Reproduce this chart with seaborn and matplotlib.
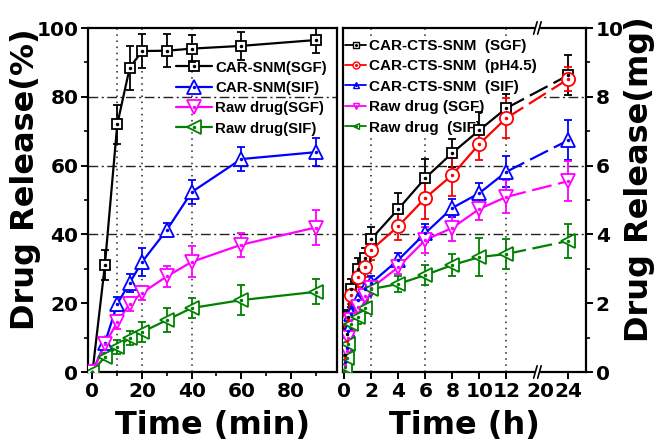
import matplotlib
matplotlib.use("Agg")
import matplotlib.pyplot as plt
import seaborn as sns
from matplotlib.lines import Line2D
from matplotlib.legend_handler import HandlerTuple
from matplotlib.ticker import MultipleLocator, FixedLocator

sns.set_theme(style="ticks", rc={"axes.edgecolor": "black", "xtick.color": "black",
                                 "ytick.color": "black", "text.color": "black",
                                 "axes.labelcolor": "black"})
plt.rcParams["font.family"] = ["DejaVu Sans"]
plt.rcParams["font.weight"] = "bold"
plt.rcParams["axes.labelweight"] = "bold"

# ---------------- data: left panel (time in min, release in %) ----------------
t_min = [0, 5, 10, 15, 20, 30, 40, 60, 90]
snm_sgf = [0, 31, 72, 88.4, 93.3, 93.4, 94.0, 94.8, 96.5]
snm_sgf_err = [0, 4.4, 5.7, 6.4, 4.9, 4.8, 4.0, 4.0, 3.8]
snm_sif = [0, 8.4, 19.8, 25.9, 32.0, 41.3, 52.3, 61.9, 63.9]
snm_sif_err = [0, 1.0, 2.0, 2.5, 4.0, 2.0, 3.5, 3.5, 4.0]
raw_sgf = [0, 8.0, 14.5, 19.8, 23.0, 27.8, 32.0, 37.0, 42.0]
raw_sgf_err = [0, 1.0, 2.0, 2.0, 2.0, 3.0, 4.5, 3.5, 5.0]
raw_sif = [0, 4.5, 7.2, 9.9, 11.6, 15.1, 18.6, 20.9, 23.3]
raw_sif_err = [0, 1.0, 2.0, 2.0, 2.8, 3.5, 3.0, 4.3, 3.6]
left_labels = ["CAR-SNM(SGF)", "CAR-SNM(SIF)", "Raw drug(SGF)", "Raw drug(SIF)"]

# ---------------- data: right panel (time in h, release in mg) ----------------
t_h = [0, 0.08, 0.17, 0.25, 0.5, 1, 1.5, 2, 4, 6, 8, 10, 12, 24]
cts_sgf = [0, 0.5, 1.1, 1.6, 2.4, 3.0, 3.3, 3.87, 4.74, 5.64, 6.37, 7.03, 7.67, 8.63]
cts_sgf_err = [0, 0.1, 0.15, 0.2, 0.3, 0.3, 0.3, 0.35, 0.45, 0.55, 0.4, 0.52, 0.4, 0.58]
cts_ph45 = [0, 0.4, 0.9, 1.5, 2.24, 2.77, 3.05, 3.55, 4.24, 5.06, 5.73, 6.63, 7.38, 8.52]
cts_ph45_err = [0, 0.1, 0.15, 0.2, 0.25, 0.3, 0.3, 0.3, 0.4, 0.6, 0.6, 0.48, 0.58, 0.35]
cts_sif = [0, 0.3, 0.7, 1.2, 1.7, 2.1, 2.4, 2.59, 3.26, 4.04, 4.77, 5.2, 5.82, 6.74]
cts_sif_err = [0, 0.05, 0.1, 0.15, 0.2, 0.2, 0.2, 0.2, 0.2, 0.25, 0.25, 0.3, 0.45, 0.58]
rawh_sgf = [0, 0.2, 0.6, 1.0, 1.5, 1.9, 2.2, 2.44, 3.05, 3.84, 4.19, 4.74, 5.09, 5.55]
rawh_sgf_err = [0, 0.05, 0.1, 0.15, 0.2, 0.2, 0.15, 0.15, 0.2, 0.38, 0.38, 0.33, 0.48, 0.57]
rawh_sif = [0, 0.15, 0.4, 0.8, 1.4, 1.6, 1.86, 2.41, 2.56, 2.82, 3.11, 3.34, 3.43, 3.81]
rawh_sif_err = [0, 0.05, 0.1, 0.15, 0.2, 0.2, 0.15, 0.15, 0.22, 0.3, 0.33, 0.55, 0.45, 0.5]
right_labels = ["CAR-CTS-SNM  (SGF)", "CAR-CTS-SNM  (pH4.5)", "CAR-CTS-SNM  (SIF)",
                "Raw drug (SGF)", "Raw drug  (SIF)"]
right_tick_hours = [0, 2, 4, 6, 8, 10, 12, 20, 24]


def hpos(t):
    """broken time axis: 0-12 h linear, then compressed segment starting at 20 h"""
    return t if t <= 12 else 14.55 + (t - 20) * 0.5125


W, H = 655, 447
fig = plt.figure(figsize=(W / 100, H / 100), dpi=100)
axL = fig.add_axes([88 / W, 75 / H, 249 / W, 344 / H])
axR = fig.add_axes([343 / W, 75 / H, 243 / W, 344 / H])

LW = 1.6
MEW = 1.3


def draw_series(ax, x, y, err, color, marker, ms, split=None):
    ax.errorbar(x, y, yerr=err, fmt="none", ecolor=color, elinewidth=1.3,
                capsize=3.2, capthick=1.3, zorder=3)
    if split is None:
        sns.lineplot(x=x, y=y, ax=ax, color=color, linewidth=LW, estimator=None,
                     sort=False, errorbar=None, legend=False, zorder=4)
    else:
        sns.lineplot(x=x[:split], y=y[:split], ax=ax, color=color, linewidth=LW,
                     estimator=None, sort=False, errorbar=None, legend=False, zorder=4)
        sns.lineplot(x=x[split - 1:], y=y[split - 1:], ax=ax, color=color, linewidth=LW,
                     linestyle=(0, (9, 3)), estimator=None, sort=False, errorbar=None,
                     legend=False, zorder=4)
    ax.plot(x, y, linestyle="none", marker=marker, markersize=ms, markerfacecolor="white",
            markeredgecolor=color, markeredgewidth=MEW, zorder=5)
    ax.plot(x, y, linestyle="none", marker="o", markersize=1.5, color=color, zorder=6)


# ---------------- left panel ----------------
left_series = [
    (snm_sgf, snm_sgf_err, "black", "s", 6.5),
    (snm_sif, snm_sif_err, "#0000ff", "^", 10),
    (raw_sgf, raw_sgf_err, "#ff00ff", "v", 10),
    (raw_sif, raw_sif_err, "#008000", "<", 10),
]
for y, e, c, m, ms in left_series:
    draw_series(axL, t_min, y, e, c, m, ms)

for yv in (40, 60, 80):
    axL.axhline(yv, color="#222222", lw=1.0, ls=(0, (7, 2.5, 1.5, 2.5)), zorder=1)
for xv in (10, 20, 40):
    axL.axvline(xv, color="#222222", lw=1.1, ls=(0, (1, 3)), zorder=1)

axL.set_xlim(-1.8, 98.6)
axL.set_ylim(0, 100)
axL.xaxis.set_major_locator(FixedLocator([0, 20, 40, 60, 80]))
axL.xaxis.set_minor_locator(FixedLocator([10, 30, 50, 70, 90]))
axL.yaxis.set_major_locator(MultipleLocator(20))
axL.yaxis.set_minor_locator(MultipleLocator(10))
axL.set_xlabel("Time (min)", fontsize=23, labelpad=7)
axL.set_ylabel("Drug Release(%)", fontsize=23)
axL.yaxis.set_label_coords(-0.19, 0.56)

hL = []
for y, e, c, m, ms in left_series:
    h1 = Line2D([], [], color=c, lw=LW, marker=m, markersize=ms, markerfacecolor="white",
                markeredgecolor=c, markeredgewidth=MEW)
    h2 = Line2D([], [], linestyle="none", marker="o", markersize=1.5, color=c)
    hL.append((h1, h2))
legL = axL.legend(hL, left_labels, handler_map={tuple: HandlerTuple(ndivide=1)},
                  loc="upper left", bbox_to_anchor=(0.353, 0.905), frameon=False,
                  borderpad=0, borderaxespad=0, handlelength=2.4, handletextpad=0.2,
                  labelspacing=0.42, numpoints=1,
                  prop=dict(family="Liberation Sans", weight="bold", size=10.8))
legL.set_zorder(1.5)

# ---------------- right panel ----------------
xh = [hpos(t) for t in t_h]
split = t_h.index(12) + 1
right_series = [
    (cts_sgf, cts_sgf_err, "black", "s", 7),
    (cts_ph45, cts_ph45_err, "#ff0000", "o", 9.5),
    (cts_sif, cts_sif_err, "#0000ff", "^", 9.5),
    (rawh_sgf, rawh_sgf_err, "#ff00ff", "v", 9.5),
    (rawh_sif, rawh_sif_err, "#008000", "<", 9.5),
]
for y, e, c, m, ms in right_series:
    draw_series(axR, xh, y, e, c, m, ms, split=split)

for yv in (4, 6, 8):
    axR.axhline(yv, color="#222222", lw=1.0, ls=(0, (7, 2.5, 1.5, 2.5)), zorder=1)
for xv in (2, 6, 12):
    axR.axvline(xv, color="#222222", lw=1.1, ls=(0, (1, 3)), zorder=1)

axR.set_xlim(-0.1, 17.9)
axR.set_ylim(0, 10)
axR.set_xticks([hpos(t) for t in right_tick_hours])
axR.set_xticklabels([str(t) for t in right_tick_hours])
axR.yaxis.tick_right()
axR.yaxis.set_label_position("right")
axR.yaxis.set_major_locator(MultipleLocator(2))
axR.yaxis.set_minor_locator(MultipleLocator(1))
axR.set_xlabel("Time (h)", fontsize=23, labelpad=7)
axR.set_ylabel("Drug Release(mg)", fontsize=23)
axR.yaxis.set_label_coords(1.155, 0.56)

hR = []
for y, e, c, m, ms in right_series:
    h1 = Line2D([], [], color=c, lw=1.3, marker=m, markersize=5, markerfacecolor="white",
                markeredgecolor=c, markeredgewidth=1.0)
    h2 = Line2D([], [], linestyle="none", marker="o", markersize=1.2, color=c)
    hR.append((h1, h2))
legR = axR.legend(hR, right_labels, handler_map={tuple: HandlerTuple(ndivide=1)},
                  loc="upper left", bbox_to_anchor=(0.0, 0.975), frameon=True,
                  facecolor="white", edgecolor="none", framealpha=1, fancybox=False,
                  borderpad=0.15, borderaxespad=0, handlelength=1.37, handletextpad=0.2,
                  labelspacing=0.42, numpoints=1,
                  prop=dict(family="Liberation Sans", weight="bold", size=11))
legR.set_zorder(1.5)

# axis break marks on the right panel
bx = 14.3
tr = axR.get_xaxis_transform()
for yb in (0, 1):
    axR.plot([bx - 0.2, bx + 0.2], [yb, yb], color="white", lw=3, transform=tr,
             clip_on=False, zorder=10, solid_capstyle="butt")
    for dx in (-0.15, 0.15):
        axR.plot([bx + dx - 0.13, bx + dx + 0.13], [yb - 0.018, yb + 0.018], color="black",
                 lw=1.2, transform=tr, clip_on=False, zorder=11)

# ---------------- ticks & spines ----------------
for ax in (axL, axR):
    for sp in ax.spines.values():
        sp.set_linewidth(1.6)
        sp.set_color("black")
        sp.set_visible(True)
    ax.tick_params(which="major", direction="out", length=5, width=1.4, labelsize=14.5, pad=2)
    ax.tick_params(which="minor", direction="out", length=3, width=1.2)
axL.tick_params(which="both", top=False, right=False)
axR.tick_params(which="both", top=False, left=False, labelleft=False, right=True, labelright=True)
axR.xaxis.get_major_ticks()[7].tick1line.set_visible(False)

fig.savefig("out.png", dpi=100)
